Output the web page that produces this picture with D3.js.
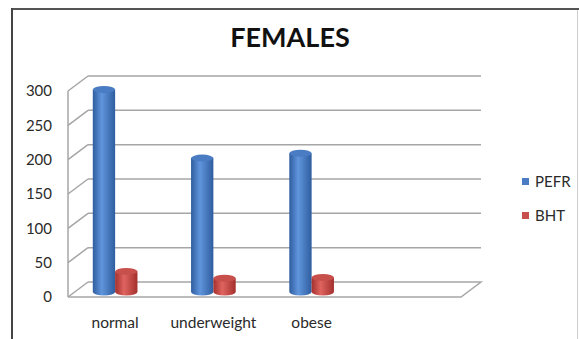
<!DOCTYPE html>
<html>
<head>
<meta charset="utf-8">
<script src="https://cdn.jsdelivr.net/npm/d3@7"></script>
<style>
  body { margin: 0; background: #fff; }
  svg { display: block; font-family: Lato, "Open Sans", sans-serif; }
</style>
</head>
<body>
<svg width="579" height="339"></svg>
<script>
// chart data
var categories = ["normal", "underweight", "obese"];
var series = ["PEFR", "BHT"];
var pefr = [295, 195, 202];
var bht = [30, 20, 21];
var yTicks = [0, 50, 100, 150, 200, 250, 300];
var title = "FEMALES";

var colors = {
    PEFR: {edge: "#2f5d9f", mid: "#6095dc", top: "#4a7cc4"},
    BHT: {edge: "#a3302d", mid: "#df6460", top: "#c8504c"}
};

var svg = d3.select("svg");

// 3d depth offset (front -> back)
var depth = {dx: 20, dy: -15};
var left = 68, right = 461;

// 4 slots, last one empty like the original sheet
var x = d3.scaleBand().domain(categories.concat([""])).range([left, right]);
var xs = d3.scaleBand().domain(series).range([0, x.bandwidth()])
    .paddingInner(0).paddingOuter(1.2);
var y = d3.scaleLinear().domain([0, 300]).range([297, 91]);
var barShift = {dx: -2, dy: -5};

// outer frame
svg.append("line").attr("x1", 12).attr("y1", 9).attr("x2", 579).attr("y2", 9)
    .attr("stroke", "#555").attr("stroke-width", 2);
svg.append("line").attr("x1", 12).attr("y1", 8).attr("x2", 12).attr("y2", 339)
    .attr("stroke", "#444").attr("stroke-width", 2);
svg.append("line").attr("x1", 577.5).attr("y1", 10).attr("x2", 577.5).attr("y2", 339)
    .attr("stroke", "#ccc").attr("stroke-width", 1);

svg.append("text")
    .attr("x", 290).attr("y", 47)
    .attr("text-anchor", "middle")
    .attr("font-size", 27).attr("font-weight", "bold")
    .attr("fill", "#111")
    .text(title);

// walls / gridlines
var grid = svg.append("g").attr("stroke", "#a6a6a6").attr("stroke-width", 1.5).attr("fill", "none");
yTicks.forEach(function (t) {
    var yf = y(t);
    if (t > 0) {
        grid.append("line")
            .attr("x1", left + depth.dx).attr("y1", yf + depth.dy)
            .attr("x2", right + depth.dx).attr("y2", yf + depth.dy);
    }
    grid.append("line")
        .attr("x1", left).attr("y1", yf)
        .attr("x2", left + depth.dx).attr("y2", yf + depth.dy);
});
// left axis line
grid.append("line").attr("x1", left).attr("y1", y(300)).attr("x2", left).attr("y2", y(0));
// floor
grid.append("path").attr("d",
    "M" + left + "," + y(0) + "L" + right + "," + y(0) +
    "L" + (right + depth.dx) + "," + (y(0) + depth.dy) +
    "L" + (left + depth.dx) + "," + (y(0) + depth.dy));

// y tick labels
svg.append("g").selectAll("text")
    .data(yTicks).enter().append("text")
    .attr("x", 52).attr("y", function (d) { return y(d); })
    .attr("dy", "0.35em")
    .attr("text-anchor", "end")
    .attr("font-size", 15).attr("fill", "#2a2a2a")
    .text(function (d) { return d; });

// category labels
svg.append("g").selectAll("text")
    .data(categories).enter().append("text")
    .attr("x", function (d) { return x(d) + x.bandwidth() / 2 - 2; })
    .attr("y", 328)
    .attr("text-anchor", "middle")
    .attr("font-size", 15.5).attr("fill", "#2a2a2a")
    .text(function (d) { return d; });

// gradients for cylinders
var defs = svg.append("defs");
series.forEach(function (s) {
    var g = defs.append("linearGradient").attr("id", "grad-" + s)
        .attr("x1", 0).attr("x2", 1).attr("y1", 0).attr("y2", 0);
    g.append("stop").attr("offset", "0%").attr("stop-color", colors[s].edge);
    g.append("stop").attr("offset", "40%").attr("stop-color", colors[s].mid);
    g.append("stop").attr("offset", "100%").attr("stop-color", colors[s].edge);
});

var rows = categories.map(function (c, i) {
    return [{cat: c, s: "PEFR", v: pefr[i]}, {cat: c, s: "BHT", v: bht[i]}];
});
var flat = [].concat.apply([], rows);

var bw = xs.bandwidth();
var ry = 3.5;
var bars = svg.append("g").selectAll("g.bar")
    .data(flat).enter().append("g").attr("class", "bar");

bars.append("path")
    .attr("d", function (d) {
        var x0 = x(d.cat) + xs(d.s) + barShift.dx;
        var yt = y(d.v) + barShift.dy;
        var yb = y(0) + barShift.dy;
        return "M" + x0 + "," + yt + "L" + x0 + "," + yb +
            "A" + (bw / 2) + "," + ry + " 0 0 0 " + (x0 + bw) + "," + yb +
            "L" + (x0 + bw) + "," + yt + "Z";
    })
    .attr("fill", function (d) { return "url(#grad-" + d.s + ")"; });

bars.append("ellipse")
    .attr("cx", function (d) { return x(d.cat) + xs(d.s) + barShift.dx + bw / 2; })
    .attr("cy", function (d) { return y(d.v) + barShift.dy; })
    .attr("rx", bw / 2).attr("ry", ry)
    .attr("fill", function (d) { return colors[d.s].top; });

// legend
var legend = svg.append("g").selectAll("g")
    .data(series).enter().append("g")
    .attr("transform", function (d, i) { return "translate(522," + (178 + i * 34) + ")"; });
legend.append("rect").attr("width", 7).attr("height", 7)
    .attr("fill", function (d) { return colors[d].top; });
legend.append("text").attr("x", 13).attr("y", 4).attr("dy", "0.35em")
    .attr("font-size", 15).attr("fill", "#2a2a2a")
    .text(function (d) { return d; });
</script>
</body>
</html>
